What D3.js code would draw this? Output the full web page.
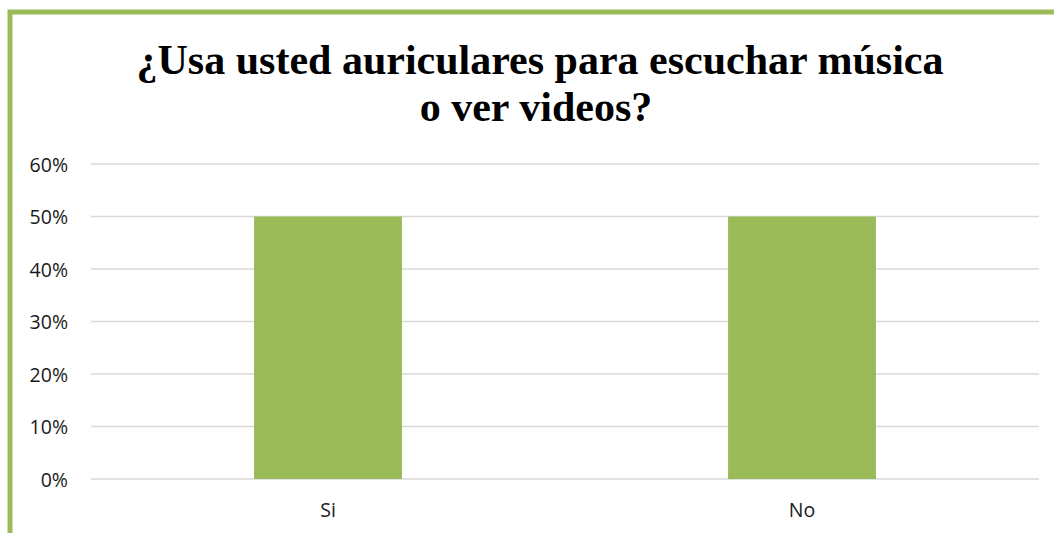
<!DOCTYPE html>
<html><head><meta charset="utf-8">
<script src="https://cdn.jsdelivr.net/npm/d3@7"></script>
<style>body{margin:0;background:#fff}svg{display:block}</style>
</head><body>
<script>
const categories = ["Si", "No"];
const values = [0.5, 0.5];
const tickValues = [0, 0.1, 0.2, 0.3, 0.4, 0.5, 0.6];
const titleLines = ["¿Usa usted auriculares para escuchar música", "o ver videos?"];

const W = 1054, H = 533;
const svg = d3.select("body").append("svg").attr("width", W).attr("height", H);
svg.append("rect").attr("width", W).attr("height", H).attr("fill", "#fff");
// frame
svg.append("rect").attr("x", 10).attr("y", 12).attr("width", W + 20).attr("height", H + 20)
  .attr("fill", "none").attr("stroke", "#9BBB59").attr("stroke-width", 5);

const x0 = 91, x1 = 1039, yTop = 164, yBot = 479;
const y = d3.scaleLinear().domain([0, 0.6]).range([yBot, yTop]);
const x = d3.scaleBand().domain(categories).range([x0, x1]).paddingInner(0.688).paddingOuter(0.344);

svg.append("g").selectAll("line").data(tickValues).join("line")
  .attr("x1", x0).attr("x2", x1).attr("y1", d => y(d)).attr("y2", d => y(d))
  .attr("stroke", "#D9D9D9").attr("stroke-width", 1.3);

const yAxis = d3.axisLeft(y).tickValues(tickValues).tickFormat(d3.format(".0%")).tickSize(0).tickPadding(0);
const ga = svg.append("g").attr("transform", `translate(68,0)`).call(yAxis);
ga.select(".domain").remove();
ga.selectAll("text").attr("font-family", "'Open Sans', sans-serif").attr("font-size", 19.5).attr("fill", "#1a1a1a").attr("dy", "0.36em");

svg.append("g").selectAll("rect").data(categories).join("rect")
  .attr("x", d => x(d)).attr("width", x.bandwidth())
  .attr("y", (d, i) => y(values[i])).attr("height", (d, i) => yBot - y(values[i]))
  .attr("fill", "#9BBB59");

const xAxis = d3.axisBottom(x).tickSize(0).tickPadding(0);
const gx = svg.append("g").attr("transform", `translate(0,${yBot})`).call(xAxis);
gx.select(".domain").remove();
gx.selectAll("text").attr("font-family", "'Open Sans', sans-serif").attr("font-size", 19.5).attr("fill", "#1a1a1a").attr("y", 38).attr("dy", "0");

svg.append("g").selectAll("text").data(titleLines).join("text")
  .attr("x", (d, i) => i === 0 ? 540 : 536).attr("y", (d, i) => i === 0 ? 74 : 121)
  .attr("text-anchor", "middle").attr("font-family", "'Liberation Serif', 'Times New Roman', serif")
  .attr("font-weight", "bold").attr("font-size", 42).attr("fill", "#000").text(d => d);
</script>
</body></html>
